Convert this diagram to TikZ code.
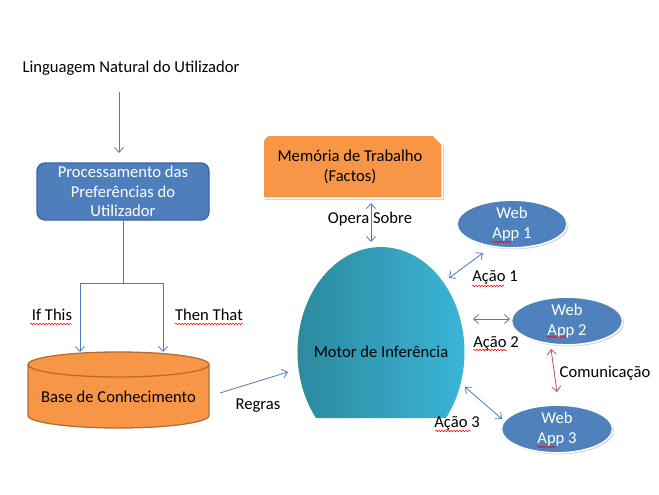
\documentclass[tikz,border=0pt]{standalone}
\usepackage{fontspec}
\setmainfont{Carlito}
\usetikzlibrary{arrows.meta,shapes.geometric,decorations.pathmorphing,shadows}
\definecolor{appblue}{HTML}{4F81BD}
\definecolor{procblue}{HTML}{4F7EBD}
\definecolor{procedge}{HTML}{3A6497}
\definecolor{orangeA}{HTML}{F79646}
\definecolor{orangeE}{HTML}{B66D31}
\definecolor{arrblue}{HTML}{4A7EBB}
\definecolor{redA}{HTML}{C0504D}
\definecolor{tealL}{HTML}{2A879C}
\definecolor{tealR}{HTML}{3CB6D8}
\tikzset{
  arr/.style={draw=arrblue, line width=0.8pt, -{Straight Barb[length=5pt,width=9pt]}},
  darr/.style={draw=arrblue, line width=0.8pt, {Straight Barb[length=5pt,width=9pt]}-{Straight Barb[length=5pt,width=9pt]}},
  rarr/.style={draw=redA, line width=0.8pt, {Straight Barb[length=5pt,width=9pt]}-{Straight Barb[length=5pt,width=9pt]}},
  procbox/.style={rectangle, rounded corners=8pt, fill=procblue, draw=procedge, line width=1.3pt,
    minimum width=172pt, minimum height=57pt, text=white, align=center, inner sep=0pt},
  webapp/.style={ellipse, fill=appblue, draw=white, line width=1.5pt, text=white, align=center,
    minimum width=110pt, minimum height=44pt, inner sep=0pt,
    drop shadow={shadow xshift=1.5pt, shadow yshift=-1.5pt, opacity=0.35}},
  lbl/.style={text=black, align=center, inner sep=0pt},
  squig/.style={draw=red, line width=0.5pt, decorate, decoration={snake, amplitude=0.8pt, segment length=3pt}},
}
\begin{document}
\begin{tikzpicture}[x=1pt,y=-1pt, font=\fontsize{16.6}{19.5}\selectfont]
\useasboundingbox (0,0) rectangle (659,495);
\fill[white] (0,0) rectangle (659,495);

% Linguagem natural
\node[lbl] (lang) at (131,68) {Linguagem Natural do Utilizador};
\coordinate (a1s) at (119,92);
\coordinate (a1e) at (119,153);
\draw[arr] (a1s) -- (a1e);

% Processamento
\node[procbox] (proc) at (123,191.5) {Processamento das\\Preferências do\\Utilizador};

% Base de conhecimento (cylinder)
\fill[orangeA] (28,364.5) -- (28,415.5) arc[start angle=180,end angle=0,x radius=90.5,y radius=12.5]
  -- (209,364.5) arc[start angle=0,end angle=-180,x radius=90.5,y radius=12.5] -- cycle;
\draw[orangeE, line width=1.3pt] (28,364.5) -- (28,415.5) arc[start angle=180,end angle=0,x radius=90.5,y radius=12.5]
  -- (209,364.5);
\draw[orangeE, line width=1.3pt] (118.5,364.5) ellipse[x radius=90.5,y radius=12.5];
\node[lbl, minimum width=181pt] (kb) at (118.5,397) {Base de Conhecimento};

\coordinate (kbL) at (80,352);
\coordinate (kbR) at (163,352);
\draw[arr] (proc.south) -- ++(0,63) -| (kbL);
\draw[arr] (proc.south) -- ++(0,63) -| (kbR);
\node[lbl] (ifthis) at (52,315) {If This};
\node[lbl] (thenthat) at (209,315) {Then That};

% Motor de inferencia
\shade[left color=tealL, right color=tealR] (316.0,418) arc[start angle=141.1,end angle=398.9,x radius=83.5,y radius=105] -- cycle;
\node[lbl] (motor) at (381,352) {Motor de Inferência};

% Regras
\coordinate (rg1) at (220,393);
\coordinate (rg2) at (288,372);
\draw[arr] (rg1) -- (rg2);
\node[lbl] (regras) at (258,406) {Regras};

% Memoria de trabalho
\fill[black!35, opacity=0.5] (265,200) -- (265,145) arc[start angle=180,end angle=270,radius=8] -- (435,137) -- (444,146) -- (444,200) -- cycle;
\filldraw[fill=orangeA, draw=white, line width=1.5pt] (263,198) -- (263,143) arc[start angle=180,end angle=270,radius=8] -- (433,135) -- (442,144) -- (442,198) -- cycle;
\node[lbl] (mem) at (350,167) {Memória de Trabalho\\(Factos)};

\node[lbl] (opera) at (370,219) {Opera Sobre};
\coordinate (op1) at (371,203);
\coordinate (op2) at (371,242);
\draw[darr] (op1) -- (op2);

% Web apps
\node[webapp, minimum width=110pt, minimum height=38pt] (app1) at (512,224) {Web\\App 1};
\node[webapp, minimum width=111pt, minimum height=46pt] (app2) at (567,321) {Web\\App 2};
\node[webapp, minimum width=111pt, minimum height=46pt] (app3) at (557,429) {Web\\App 3};

% Actions
\coordinate (ac1a) at (449,278);
\coordinate (ac1b) at (483,253);
\draw[darr] (ac1a) -- (ac1b);
\node[lbl] (acao1) at (495,277) {Ação 1};

\coordinate (ac2a) at (473,319);
\coordinate (ac2b) at (510,319);
\draw[darr] (ac2a) -- (ac2b);
\node[lbl] (acao2) at (496,343) {Ação 2};

\coordinate (ac3a) at (465,387);
\coordinate (ac3b) at (502,419);
\draw[darr] (ac3a) -- (ac3b);
\node[lbl] (acao3) at (457,423) {Ação 3};

\coordinate (cm1) at (551,349);
\coordinate (cm2) at (557,392);
\draw[rarr] (cm1) -- (cm2);
\node[lbl] (comun) at (605,373) {Comunicação};

% spell-check squiggles
\draw[squig] (30,324) -- (72,324);
\draw[squig] (175,324) -- (243,324);
\draw[squig] (472,286) -- (504,286);
\draw[squig] (473,350) -- (507,350);
\draw[squig] (435,431) -- (471,431);
\draw[squig] (492,242) -- (511,242);
\draw[squig] (547,337) -- (566,337);
\draw[squig] (537,447) -- (556,447);
\end{tikzpicture}
\end{document}
